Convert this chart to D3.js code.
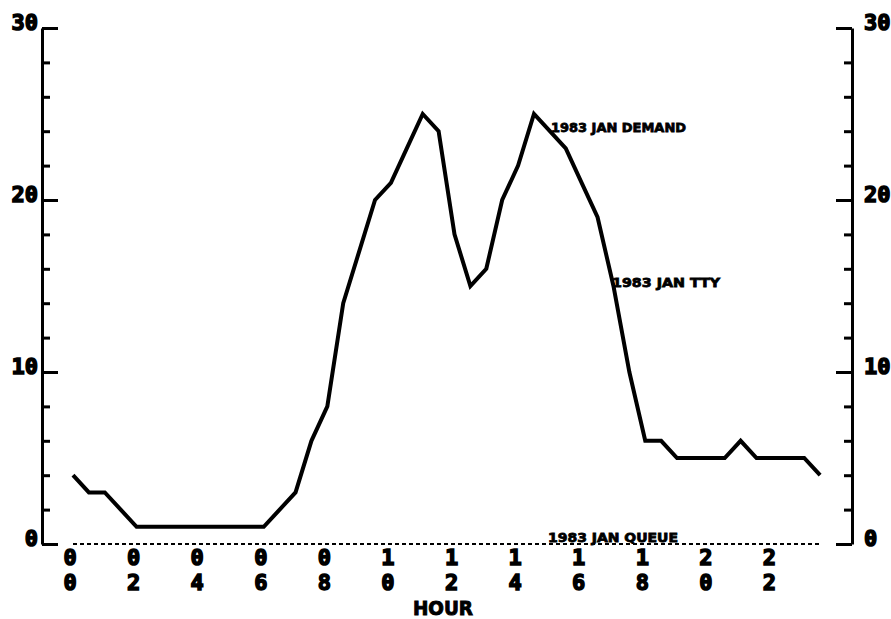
<!DOCTYPE html>
<html>
<head>
<meta charset="utf-8">
<script src="https://cdn.jsdelivr.net/npm/d3@7"></script>
<style>
  body { margin: 0; background: #fff; }
  svg { display: block; }
  text { fill: #000; stroke: #000; }
</style>
</head>
<body>
<svg width="891" height="619"></svg>
<script>
// half-hour sample times
var hours = [0, 0.5, 1, 1.5, 2, 2.5, 3, 3.5, 4, 4.5, 5, 5.5, 6, 6.5, 7, 7.5,
             8, 8.5, 9, 9.5, 10, 10.5, 11, 11.5, 12, 12.5, 13, 13.5, 14, 14.5, 15, 15.5,
             16, 16.5, 17, 17.5, 18, 18.5, 19, 19.5, 20, 20.5, 21, 21.5, 22, 22.5, 23, 23.5];
var demand = [4, 3, 3, 2, 1, 1, 1, 1, 1, 1, 1, 1, 1, 2, 3, 6,
              8, 14, 17, 20, 21, 23, 25, 24, 18, 15, 16, 20, 22, 25, 24, 23,
              21, 19, 15, 10, 6, 6, 5, 5, 5, 5, 6, 5, 5, 5, 5, 4];
var queue = [0, 0, 0, 0, 0, 0, 0, 0, 0, 0, 0, 0, 0, 0, 0, 0,
             0, 0, 0, 0, 0, 0, 0, 0, 0, 0, 0, 0, 0, 0, 0, 0,
             0, 0, 0, 0, 0, 0, 0, 0, 0, 0, 0, 0, 0, 0, 0, 0];
var hourTicks = [0, 2, 4, 6, 8, 10, 12, 14, 16, 18, 20, 22];
var yTicks = [0, 10, 20, 30];
var yMinor = [0, 2, 4, 6, 8, 10, 12, 14, 16, 18, 20, 22, 24, 26, 28, 30];

var svg = d3.select("svg");
var x = d3.scaleLinear().domain([0, 24]).range([73, 836]);
var y = d3.scaleLinear().domain([0, 30]).range([544, 28]);
var leftX = 42, rightX = 852;
var mono = "'DejaVu Sans Mono', monospace";

// left axis, ticks pointing in
var left = svg.append("g")
    .attr("transform", "translate(" + leftX + ",0)")
    .call(d3.axisRight(y).tickValues(yMinor).tickSize(8).tickSizeOuter(0).tickFormat(""));
// right axis
var right = svg.append("g")
    .attr("transform", "translate(" + rightX + ",0)")
    .call(d3.axisLeft(y).tickValues(yMinor).tickSize(8).tickSizeOuter(0).tickFormat(""));

[left, right].forEach(function(g){
    g.select(".domain").attr("stroke", "#000").attr("stroke-width", 3);
    g.selectAll(".tick line")
        .attr("stroke", "#000")
        .attr("stroke-width", 3)
        .attr("x2", function(d){
            var s = d % 10 === 0 ? 16 : 8;
            return g === left ? s : -s;
        });
});

// y labels both sides
svg.selectAll(".ylabL").data(yTicks).enter().append("text")
    .attr("x", 38).attr("y", function(d){ return y(d) + 2; })
    .attr("text-anchor", "end")
    .style("font-family", mono).style("font-weight", "bold").style("font-size", "22px")
    .style("stroke-width", 1.5)
    .text(function(d){ return d; });
svg.selectAll(".ylabR").data(yTicks).enter().append("text")
    .attr("x", 864).attr("y", function(d){ return y(d) + 2; })
    .style("font-family", mono).style("font-weight", "bold").style("font-size", "22px")
    .style("stroke-width", 1.5)
    .text(function(d){ return d; });

// hour labels, two digit rows
var hl = svg.selectAll(".hl").data(hourTicks).enter().append("g");
hl.append("text")
    .attr("x", function(d){ return x(d) - 3; }).attr("y", 565)
    .attr("text-anchor", "middle")
    .style("font-family", mono).style("font-weight", "bold").style("font-size", "22px")
    .style("stroke-width", 1.5)
    .text(function(d){ return d3.format("02")(d)[0]; });
hl.append("text")
    .attr("x", function(d){ return x(d) - 3; }).attr("y", 590)
    .attr("text-anchor", "middle")
    .style("font-family", mono).style("font-weight", "bold").style("font-size", "22px")
    .style("stroke-width", 1.5)
    .text(function(d){ return d3.format("02")(d)[1]; });

svg.append("text")
    .attr("x", 443).attr("y", 615)
    .attr("text-anchor", "middle")
    .attr("textLength", 60).attr("lengthAdjust", "spacingAndGlyphs")
    .style("font-family", "'DejaVu Sans', sans-serif").style("font-weight", "bold").style("font-size", "20px")
    .style("stroke-width", 1)
    .text("HOUR");

// series
var line = d3.line()
    .x(function(d){ return x(d[0]); })
    .y(function(d){ return y(d[1]); });

svg.append("path")
    .datum(d3.zip(hours, queue))
    .attr("d", line)
    .attr("fill", "none")
    .attr("stroke", "#000")
    .attr("stroke-width", 2)
    .attr("stroke-dasharray", "4,3");

svg.append("path")
    .datum(d3.zip(hours, demand))
    .attr("d", line)
    .attr("fill", "none")
    .attr("stroke", "#000")
    .attr("stroke-width", 4)
    .attr("stroke-linejoin", "miter");

// series labels
var labels = [
    { t: "1983 JAN DEMAND", x: 551, y: 132, w: 135 },
    { t: "1983 JAN TTY", x: 612, y: 287, w: 108 },
    { t: "1983 JAN QUEUE", x: 548, y: 542, w: 130 }
];
svg.selectAll(".sl").data(labels).enter().append("text")
    .attr("x", function(d){ return d.x; })
    .attr("y", function(d){ return d.y; })
    .attr("textLength", function(d){ return d.w; })
    .attr("lengthAdjust", "spacingAndGlyphs")
    .style("font-family", "'DejaVu Sans', sans-serif").style("font-weight", "bold").style("font-size", "13px")
    .style("stroke-width", 0.8)
    .text(function(d){ return d.t; });
</script>
</body>
</html>
